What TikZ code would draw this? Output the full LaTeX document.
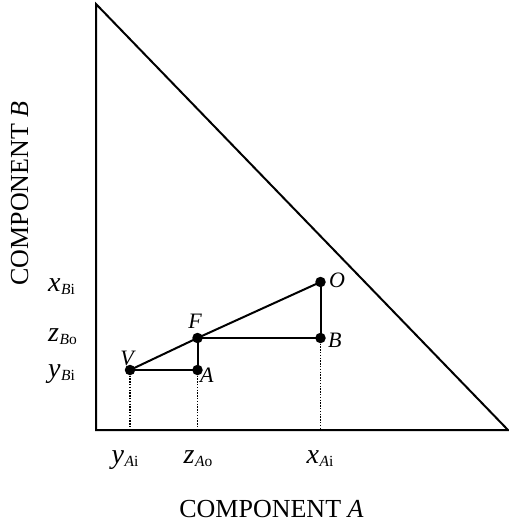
\documentclass[tikz,border=0pt]{standalone}
\usepackage{fontspec}
\setmainfont{Liberation Serif}
\newcommand{\mainsz}{\fontsize{28}{28}\selectfont}
\newcommand{\subsz}{\fontsize{15.5}{15.5}\selectfont}
\newcommand{\ptsz}{\fontsize{22}{22}\selectfont}
\newcommand{\compsz}{\fontsize{26}{26}\selectfont}
\newcommand{\axlab}[3]{{\mainsz\itshape #1}\kern0.5pt\raisebox{-3pt}{\subsz\itshape #2\upshape #3}}
\tikzset{
  frame/.style={line width=2pt, line join=miter},
  seg/.style={line width=2pt},
  dotline/.style={line width=1.4pt, dash pattern=on 1.4pt off 1.4pt},
  pt/.style={circle, fill=black, inner sep=0pt, minimum size=10.5pt},
  ptlab/.style={inner sep=0pt, font=\ptsz\itshape},
  vallab/.style={inner sep=0pt},
}
\begin{document}
\begin{tikzpicture}[x=1pt,y=-1pt]
\useasboundingbox (0,0) rectangle (509,523);
% triangle
\coordinate (top) at (96,4);
\coordinate (orig) at (96,430);
\coordinate (right) at (508,430);
\draw[frame] (top) -- (orig) -- (right) -- cycle;
% points
\node[pt] (V) at (130,370) {};
\node[pt] (A) at (197.5,370) {};
\node[pt] (F) at (197.5,338) {};
\node[pt] (B) at (320.5,338) {};
\node[pt] (O) at (320.5,282) {};
\coordinate (Vb) at (130,430);
\coordinate (Ab) at (197.5,430);
\coordinate (Bb) at (320.5,430);
% segments
\draw[seg] (V.center) -- (F.center);
\draw[seg] (F.center) -- (O.center);
\draw[seg] (V.center) -- (A.center);
\draw[seg] (F.center) -- (A.center);
\draw[seg] (F.center) -- (B.center);
\draw[seg] (B.center) -- (O.center);
\draw[dotline] (V.center) -- (Vb);
\draw[dotline] (A.center) -- (Ab);
\draw[dotline] (B.center) -- (Bb);
% point labels
\node[ptlab, anchor=base] (Vl) at (127,365) {V};
\node[ptlab, anchor=base] (Fl) at (195,328) {F};
\node[ptlab, anchor=base west] (Al) at (200,382) {A};
\node[ptlab, anchor=base west] (Bl) at (328,347) {B};
\node[ptlab, anchor=base west] (Ol) at (329,287) {O};
% vertical axis values
\node[vallab, anchor=base west] (xBi) at (48,291) {\axlab{x}{B}{i}};
\node[vallab, anchor=base west] (zBo) at (48,341) {\axlab{z}{B}{o}};
\node[vallab, anchor=base west] (yBi) at (48,377) {\axlab{y}{B}{i}};
% horizontal axis values
\node[vallab, anchor=base] (yAi) at (125,463) {\axlab{y}{A}{i}};
\node[vallab, anchor=base] (zAo) at (198,463) {\axlab{z}{A}{o}};
\node[vallab, anchor=base] (xAi) at (320,463) {\axlab{x}{A}{i}};
% axis titles
\node[inner sep=0pt, anchor=base, font=\compsz] (compA) at (271.5,517) {COMPONENT \textit{A}};
\node[inner sep=0pt, anchor=base, rotate=90, font=\compsz] (compB) at (28,193.5) {COMPONENT \textit{B}};
\end{tikzpicture}
\end{document}
